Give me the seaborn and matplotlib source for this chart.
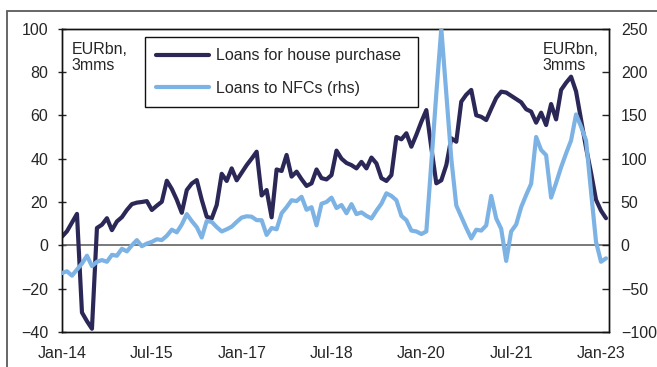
import matplotlib
matplotlib.use("Agg")
import matplotlib.pyplot as plt
from matplotlib.lines import Line2D
import numpy as np
import pandas as pd
import seaborn as sns

# Monthly series, Jan-14 .. Feb-23 (EURbn, 3-month sums)
house_purchase = [
    4, 6.5, 10.5, 14.5, -31, -35, -38.5, 8, 9.5, 12.5,
    7, 11, 13, 16.3, 19, 19.7, 20, 20.4, 16.3, 18.3,
    20.1, 29.8, 26, 21, 15, 25.5, 28.5, 30.1, 21, 13.2,
    12.4, 18.6, 33, 29.7, 35.5, 30, 33.5, 37, 40, 43.2,
    23, 25.5, 12.9, 35, 34.3, 41.7, 31.7, 34, 30.5, 27.4,
    28.6, 35, 31, 30.4, 32.4, 43.7, 40, 38, 37, 35.5,
    38.5, 35.5, 40.5, 37.8, 31, 29.7, 32.4, 50, 48.9, 51.7,
    45.5, 51, 57, 62.4, 45, 28.6, 30, 37, 49.4, 47.8,
    66.3, 69.5, 71.7, 60, 59.3, 57.8, 63, 68, 70.9, 70.5,
    69, 67.5, 66, 62.8, 61.7, 56.6, 61.2, 55.5, 65.2, 58.1,
    71.7, 75, 77.8, 71, 58, 45, 33.5, 21, 16, 12.5,
]
loans_nfc = [
    -32, -30, -35, -28, -21, -12, -24, -19, -17, -19,
    -11, -12, -4, -7, 0, 6, -1, 2, 4, 7,
    6, 11, 18, 15, 24, 36, 28, 21, 9, 28,
    27, 21, 16, 18.5, 21.5, 27, 32, 33.5, 33, 29,
    29, 12, 20, 18.5, 37, 44, 52, 51, 56, 41,
    44, 23, 48, 50, 55, 43, 46.5, 37, 47.5, 36,
    38, 34, 31, 40, 48, 60, 57, 52, 34, 29,
    17, 16, 13, 16, 95, 175, 250, 175, 100, 46,
    33, 20, 8, 18, 17, 23, 57, 31, 19, -18,
    16, 24, 44, 58, 71, 125, 110, 104, 55, 72,
    90, 106, 121, 151, 137, 121, 62, 4, -19, -15,
]
tick_months = [0, 18, 36, 54, 72, 90, 108]
tick_labels = ["Jan-14", "Jul-15", "Jan-17", "Jul-18", "Jan-20", "Jul-21", "Jan-23"]
left_ticks = [-40, -20, 0, 20, 40, 60, 80, 100]
right_ticks = [-100, -50, 0, 50, 100, 150, 200, 250]

df = pd.DataFrame({
    "month": np.arange(len(house_purchase)),
    "house": house_purchase,
    "nfc": loans_nfc,
})

sns.set_style("white")
plt.rcParams["font.family"] = ["Liberation Sans", "DejaVu Sans"]
FS = 11.5
DARK = "#2b2858"
LIGHT = "#7db3e4"

fig = plt.figure(figsize=(6.57, 3.67), dpi=100)
ax = fig.add_axes([62 / 657, 35 / 367, 547 / 657, 303.4 / 367])
ax2 = ax.twinx()

ax.axhline(0, color="#555555", lw=1.1, zorder=1)
sns.lineplot(data=df, x="month", y="house", ax=ax, color=DARK, lw=3.0,
             label="Loans for house purchase", legend=False, zorder=3)
sns.lineplot(data=df, x="month", y="nfc", ax=ax2, color=LIGHT, lw=3.0,
             label="Loans to NFCs (rhs)", legend=False, zorder=3)

ax.set_xlim(0, 109.6)
ax.set_ylim(-40, 100)
ax2.set_ylim(-100, 250)
ax.set_yticks(left_ticks)
ax2.set_yticks(right_ticks)
ax.set_xticks(tick_months)
ax.set_xticklabels(tick_labels)
ax.set_xlabel("")
ax.set_ylabel("")
ax2.set_ylabel("")

ax.tick_params(axis="y", direction="inout", length=6, width=1, color="#222222",
               labelsize=FS, pad=7, left=True)
ax.tick_params(axis="x", length=0, labelsize=FS, pad=10, bottom=False)
ax2.tick_params(axis="y", direction="in", length=5, width=1, color="#222222",
                labelsize=FS, pad=8.5, right=True)

for a in (ax, ax2):
    for s in a.spines.values():
        s.set_visible(True)
        s.set_color("#111111")
        s.set_linewidth(1.0)

ax.text(0.018, 0.955, "EURbn,\n3mms", transform=ax.transAxes, ha="left", va="top",
        fontsize=FS, linespacing=1.1)
ax.text(0.879, 0.955, "EURbn,\n3mms", transform=ax.transAxes, ha="left", va="top",
        fontsize=FS, linespacing=1.1)

handles = [Line2D([], [], color=DARK, lw=3.0), Line2D([], [], color=LIGHT, lw=3.0)]
leg = ax2.legend(handles, ["Loans for house purchase", "Loans to NFCs (rhs)"],
                 loc="upper left", bbox_to_anchor=(0.152, 0.972, 0.499, 0.0),
                 mode="expand", borderaxespad=0, fontsize=FS, frameon=True,
                 fancybox=False, edgecolor="#111111", framealpha=1,
                 handlelength=3.3, handletextpad=0.45, labelspacing=1.1,
                 borderpad=0.7)
leg.get_frame().set_linewidth(1.0)

# Outer panel border
fig.add_artist(Line2D([7 / 657, 7 / 657], [0, 1 - 10.5 / 367],
                      transform=fig.transFigure, color="#666666", lw=1.4))
fig.add_artist(Line2D([7 / 657, 1], [1 - 10.5 / 367, 1 - 10.5 / 367],
                      transform=fig.transFigure, color="#666666", lw=1.4))

fig.savefig("out.png", dpi=100)
